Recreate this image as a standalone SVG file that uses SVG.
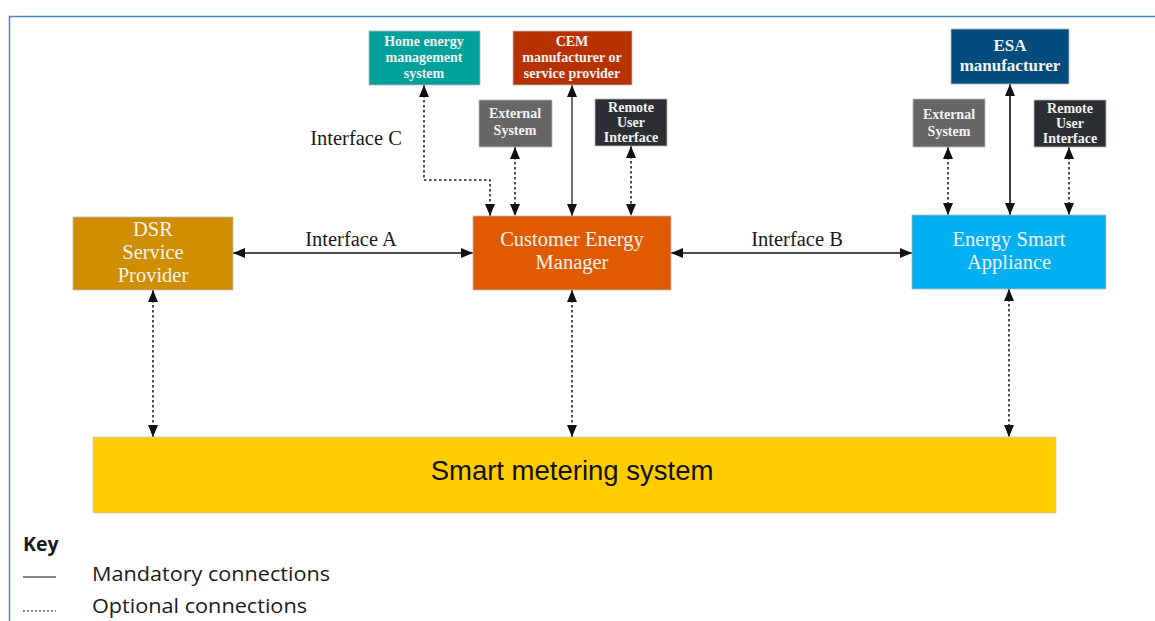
<svg xmlns="http://www.w3.org/2000/svg" width="1155" height="621" viewBox="0 0 1155 621">
<style>
.n{font-family:"Liberation Serif","DejaVu Serif",serif;fill:#f2f2f2;text-anchor:middle;font-weight:bold}
.s{font-size:14px}
.m{font-size:17px}
.l{font-size:20.5px;font-weight:normal}
.lab{font-family:"Liberation Serif","DejaVu Serif",serif;font-size:20.5px;fill:#1a1a1a;text-anchor:middle}
.key{font-family:"Open Sans","Liberation Sans",sans-serif;font-size:19.5px;fill:#1a1a1a}
.sol{stroke:#111;stroke-width:1.6;fill:none}
.dot{stroke:#222;stroke-width:1.6;fill:none;stroke-dasharray:2.5 2.5}
.box{stroke:#bbb;stroke-width:0.8}
</style>
<defs>
<marker id="ah" viewBox="0 0 12 10" refX="12" refY="5" markerWidth="12" markerHeight="10" markerUnits="userSpaceOnUse" orient="auto-start-reverse">
<path d="M0,0 L12,5 L0,10 z" fill="#111"/>
</marker>
</defs>
<rect x="0" y="0" width="1155" height="621" fill="#fff"/>
<path d="M9.5,621 V16.5 H1155" fill="none" stroke="#4a86c0" stroke-width="1.5"/>

<g id="connectors">
<line class="sol" x1="233" y1="253" x2="473" y2="253" marker-start="url(#ah)" marker-end="url(#ah)"/>
<line class="sol" x1="671" y1="253" x2="912" y2="253" marker-start="url(#ah)" marker-end="url(#ah)"/>
<polyline class="dot" points="424,85 424,180 490,180 490,216" marker-start="url(#ah)" marker-end="url(#ah)"/>
<line class="dot" x1="515" y1="147" x2="515" y2="216" marker-start="url(#ah)" marker-end="url(#ah)"/>
<line x1="572" y1="85" x2="572" y2="216" stroke="#6e6e6e" stroke-width="2" marker-start="url(#ah)" marker-end="url(#ah)"/>
<line class="dot" x1="631" y1="146" x2="631" y2="216" marker-start="url(#ah)" marker-end="url(#ah)"/>
<line class="dot" x1="948" y1="147" x2="948" y2="215" marker-start="url(#ah)" marker-end="url(#ah)"/>
<line class="sol" x1="1010" y1="84" x2="1010" y2="215" marker-start="url(#ah)" marker-end="url(#ah)"/>
<line class="dot" x1="1069" y1="147" x2="1069" y2="215" marker-start="url(#ah)" marker-end="url(#ah)"/>
<line class="dot" x1="153" y1="290" x2="153" y2="437" marker-start="url(#ah)" marker-end="url(#ah)"/>
<line class="dot" x1="572" y1="290" x2="572" y2="437" marker-start="url(#ah)" marker-end="url(#ah)"/>
<line class="dot" x1="1009" y1="289" x2="1009" y2="437" marker-start="url(#ah)" marker-end="url(#ah)"/>
<text class="lab" x="351" y="246">Interface A</text>
<text class="lab" x="797" y="246">Interface B</text>
<text class="lab" x="356" y="145">Interface C</text>
</g>

<g id="hems">
<rect class="box" x="369" y="31" width="111" height="54" fill="#00a19a"/>
<text class="n s" x="424" y="46">Home energy</text>
<text class="n s" x="424" y="62">management</text>
<text class="n s" x="424" y="78">system</text>
</g>
<g id="cem-manufacturer">
<rect class="box" x="513" y="31" width="119" height="54" fill="#b83200"/>
<text class="n s" x="572" y="46">CEM</text>
<text class="n s" x="572" y="62">manufacturer or</text>
<text class="n s" x="572" y="78">service provider</text>
</g>
<g id="cem-external">
<rect class="box" x="479" y="100" width="73" height="47" fill="#666666"/>
<text class="n s" x="515" y="118">External</text>
<text class="n s" x="515" y="135">System</text>
</g>
<g id="cem-remote">
<rect class="box" x="595" y="99" width="72" height="47" fill="#2b2f33"/>
<text class="n s" x="631" y="112">Remote</text>
<text class="n s" x="631" y="127">User</text>
<text class="n s" x="631" y="142">Interface</text>
</g>
<g id="esa-manufacturer">
<rect class="box" x="951" y="29" width="118" height="55" fill="#034d7e"/>
<text class="n m" x="1010" y="51">ESA</text>
<text class="n m" x="1010" y="71">manufacturer</text>
</g>
<g id="esa-external">
<rect class="box" x="913" y="99" width="72" height="48" fill="#666666"/>
<text class="n s" x="949" y="119">External</text>
<text class="n s" x="949" y="136">System</text>
</g>
<g id="esa-remote">
<rect class="box" x="1034" y="100" width="72" height="47" fill="#2b2f33"/>
<text class="n s" x="1070" y="113">Remote</text>
<text class="n s" x="1070" y="128">User</text>
<text class="n s" x="1070" y="143">Interface</text>
</g>
<g id="dsr">
<rect class="box" x="73" y="217" width="160" height="73" fill="#cf8e00"/>
<text class="n l" x="153" y="236">DSR</text>
<text class="n l" x="153" y="259">Service</text>
<text class="n l" x="153" y="282">Provider</text>
</g>
<g id="cem">
<rect class="box" x="473" y="216" width="198" height="74" fill="#e05a00"/>
<text class="n l" x="572" y="246">Customer Energy</text>
<text class="n l" x="572" y="269">Manager</text>
</g>
<g id="esa">
<rect class="box" x="912" y="215" width="194" height="74" fill="#00b0f0"/>
<text class="n l" x="1009" y="246">Energy Smart</text>
<text class="n l" x="1009" y="269">Appliance</text>
</g>
<g id="smart-metering">
<rect x="93" y="437" width="963" height="76" fill="#ffcc00" stroke="#c8c8c8" stroke-width="0.8"/>
<text x="572" y="480" font-family="Liberation Sans, Arial, sans-serif" font-size="27.5" fill="#111" text-anchor="middle">Smart metering system</text>
</g>

<g id="key">
<text class="key" x="23" y="551" font-weight="bold">Key</text>
<line x1="23" y1="577" x2="56" y2="577" stroke="#111" stroke-width="1"/>
<text class="key" x="92" y="581" textLength="238" lengthAdjust="spacingAndGlyphs">Mandatory connections</text>
<line x1="23" y1="611" x2="56" y2="611" stroke="#111" stroke-width="1" stroke-dasharray="2 2"/>
<text class="key" x="92" y="613" textLength="215" lengthAdjust="spacingAndGlyphs">Optional connections</text>
</g>
</svg>
